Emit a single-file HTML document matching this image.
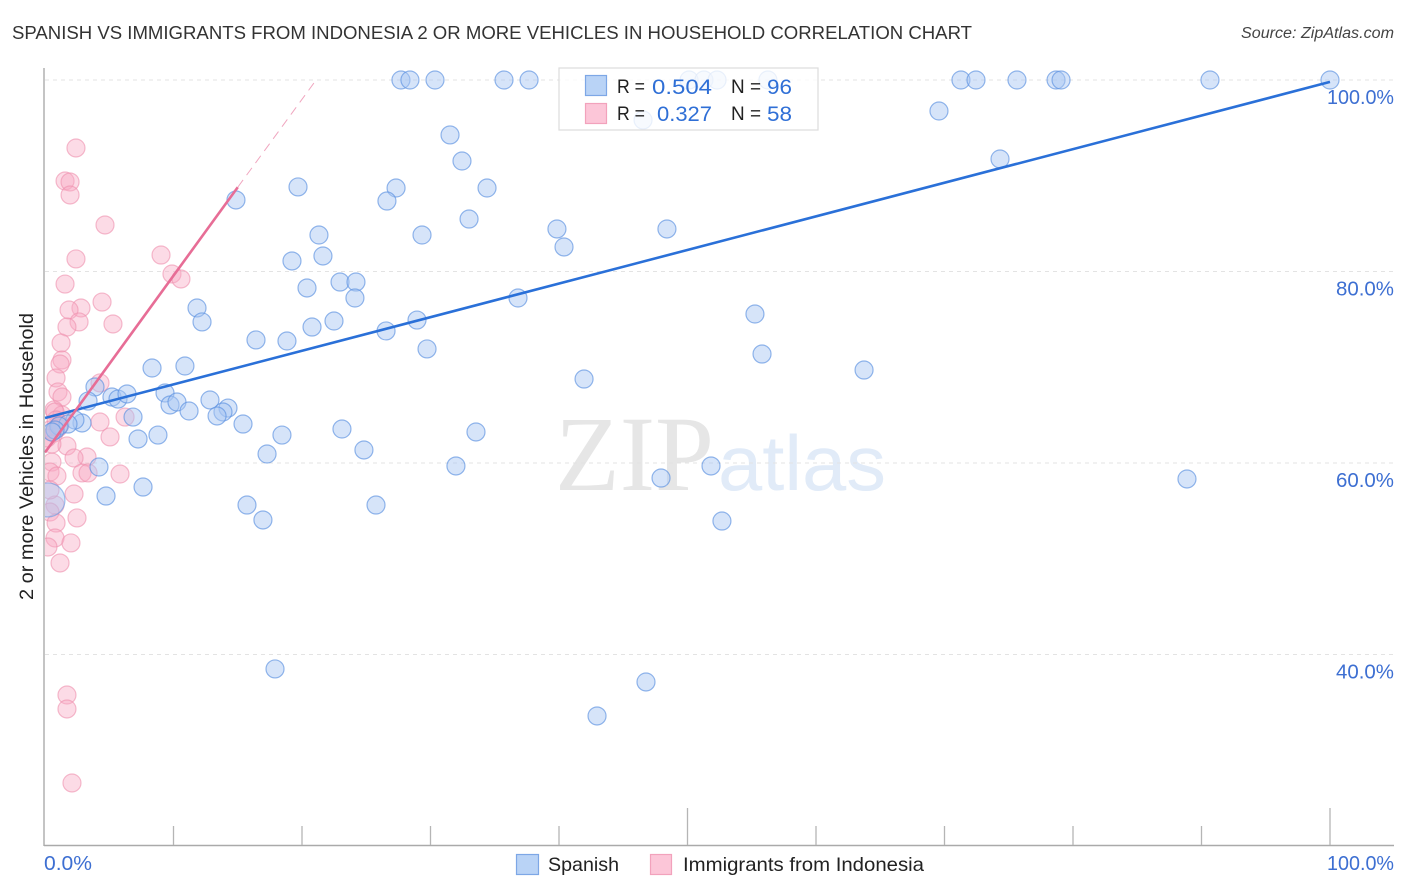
<!DOCTYPE html>
<html lang="en">
<head>
<meta charset="utf-8">
<title>Spanish vs Immigrants from Indonesia correlation chart</title>
<style>
html,body{margin:0;padding:0;background:#fff;}
body{width:1406px;height:892px;overflow:hidden;}
svg{display:block;font-family:"Liberation Sans",sans-serif;}
</style>
</head>
<body>
<svg id="chart" width="1406" height="892" viewBox="0 0 1406 892" xmlns="http://www.w3.org/2000/svg">
  <defs><clipPath id="plot-clip"><rect x="45" y="60" width="1349" height="785"/></clipPath></defs>
  <text x="12" y="39" font-size="18.4" fill="#333" textLength="960" lengthAdjust="spacingAndGlyphs">SPANISH VS IMMIGRANTS FROM INDONESIA 2 OR MORE VEHICLES IN HOUSEHOLD CORRELATION CHART</text>
  <text x="1241" y="38" font-size="15.5" font-style="italic" fill="#444" textLength="153" lengthAdjust="spacingAndGlyphs">Source: ZipAtlas.com</text>
  <g>
    <text x="555" y="490" font-family="'Liberation Serif',serif" font-size="107" fill="#e6e6e6" textLength="159" lengthAdjust="spacingAndGlyphs">ZIP</text>
    <text x="718" y="490" font-size="78" fill="#e1ebf8" textLength="168" lengthAdjust="spacingAndGlyphs">atlas</text>
  </g>
  <g id="grid"></g>
  <g id="pink-points" clip-path="url(#plot-clip)"></g>
  <g id="blue-points" clip-path="url(#plot-clip)"></g>
  <g id="trends"></g>
  <g id="axes"></g>
  <g id="y-labels" font-size="20" fill="#3d6fd2"></g>
  <text transform="translate(33,456.5) rotate(-90)" font-size="19" fill="#222" text-anchor="middle" textLength="287" lengthAdjust="spacingAndGlyphs">2 or more Vehicles in Household</text>
  <text x="44" y="870" font-size="20" fill="#3d6fd2" textLength="48" lengthAdjust="spacingAndGlyphs">0.0%</text>
  <text x="1327" y="870" font-size="20" fill="#3d6fd2" textLength="67" lengthAdjust="spacingAndGlyphs">100.0%</text>
  <g>
    <rect x="559" y="68" width="259" height="62" fill="#fff" fill-opacity="0.8" stroke="#dcdcdc" stroke-width="1.2"/>
    <rect x="585.5" y="75.5" width="21" height="20" fill="#b9d3f6" stroke="#7da7e6" stroke-width="1.2"/>
    <rect x="585.5" y="103.5" width="21" height="20" fill="#fcc6d8" stroke="#f2a2bc" stroke-width="1.2"/>
    <g font-size="19.5" fill="#222">
      <text x="617" y="93" textLength="28" lengthAdjust="spacingAndGlyphs">R =</text>
      <text x="731" y="93" textLength="30" lengthAdjust="spacingAndGlyphs">N =</text>
      <text x="617" y="120" textLength="28" lengthAdjust="spacingAndGlyphs">R =</text>
      <text x="731" y="120" textLength="30" lengthAdjust="spacingAndGlyphs">N =</text>
    </g>
    <g font-size="21" fill="#2f6fd6">
      <text x="652" y="94" textLength="60" lengthAdjust="spacingAndGlyphs">0.504</text>
      <text x="767" y="94" textLength="25" lengthAdjust="spacingAndGlyphs">96</text>
      <text x="657" y="121" textLength="55" lengthAdjust="spacingAndGlyphs">0.327</text>
      <text x="767" y="121" textLength="25" lengthAdjust="spacingAndGlyphs">58</text>
    </g>
  </g>
  <g>
    <rect x="516.5" y="854.5" width="22" height="20" fill="#b9d3f6" stroke="#7da7e6" stroke-width="1.2"/>
    <text x="548" y="871" font-size="19.5" fill="#222" textLength="71" lengthAdjust="spacingAndGlyphs">Spanish</text>
    <rect x="650.5" y="854.5" width="21" height="20" fill="#fcc6d8" stroke="#f2a2bc" stroke-width="1.2"/>
    <text x="683" y="871" font-size="19.5" fill="#222" textLength="241" lengthAdjust="spacingAndGlyphs">Immigrants from Indonesia</text>
  </g>
</svg>
<script>
const yTicks = [100, 80, 60, 40];
const yTickLabels = ["100.0%", "80.0%", "60.0%", "40.0%"];
const xTicks = [10, 20, 30, 40, 50, 60, 70, 80, 90, 100];
const spanishX = [27.70,28.40,30.35,35.72,37.67,50.12,51.28,52.30,56.26,71.28,72.45,75.64,78.68,79.07,90.66,100,46.54,69.57,31.52,32.45,74.32,19.69,27.32,34.40,14.86,26.61,33.00,21.32,29.34,39.84,48.40,40.39,19.22,21.63,22.96,24.20,20.39,24.12,36.81,11.83,55.25,12.22,22.49,28.95,20.78,26.54,16.42,18.83,29.73,55.80,8.33,10.89,63.74,41.95,3.89,9.34,3.35,5.21,5.68,6.38,12.84,9.73,10.27,11.21,14.24,13.85,13.39,6.85,2.88,2.33,1.79,1.09,15.41,23.11,18.44,33.54,7.24,8.79,17.28,24.82,31.98,51.83,4.20,47.94,88.87,7.63,4.75,15.72,25.76,16.96,52.68,17.90,46.77,42.96,0.78,0.54];
const spanishY = [100,100,100,100,100,100,100,100,100,100,100,100,100,100,100,100,95.82,96.76,94.26,91.54,91.75,88.83,88.72,88.72,87.47,87.36,85.48,83.81,83.81,84.44,84.44,82.56,81.10,81.62,78.90,78.90,78.28,77.23,77.23,76.19,75.56,74.73,74.83,74.93,74.20,73.79,72.85,72.74,71.91,71.38,69.92,70.13,69.71,68.77,67.94,67.31,66.47,66.89,66.68,67.21,66.58,66.06,66.37,65.43,65.74,65.33,64.91,64.80,64.18,64.49,64.07,63.86,64.07,63.55,62.92,63.24,62.51,62.92,60.94,61.36,59.69,59.69,59.58,58.43,58.33,57.49,56.55,55.61,55.61,54.05,53.94,38.49,37.13,33.58,63.45,63.24];
const spanishBigX = [0.23];
const spanishBigY = [56.14];
const indonesiaX = [2.41,1.56,1.95,1.95,4.67,2.41,9.03,9.88,10.58,1.56,4.44,2.80,1.87,2.65,5.29,1.71,1.25,1.32,1.17,4.28,0.86,1.01,1.32,0.70,1.32,0.78,4.28,6.23,5.06,1.71,3.27,2.26,0.54,0.39,0.93,2.88,3.35,5.84,2.26,0.78,0.39,0.39,2.49,0.86,0.78,2.02,0.23,1.17,1.71,1.71,2.10,0.86,0.39,0.70,1.01,0.54,0.16,1.17];
const indonesiaY = [92.90,89.45,89.35,87.99,84.86,81.31,81.72,79.74,79.22,78.69,76.81,76.19,75.98,74.73,74.52,74.20,72.53,70.76,70.34,68.36,68.88,67.42,66.89,65.54,65.01,65.33,64.28,64.80,62.72,61.78,60.63,60.52,60.10,59.06,58.64,58.96,58.96,58.85,56.76,55.61,57.18,54.88,54.26,53.73,52.17,51.65,51.23,49.56,35.77,34.31,26.58,64.49,63.45,63.13,63.66,61.98,62.61,63.97];
const spanishTrendX = [0, 100];
const spanishTrendY = [64.7, 99.8];
const indonesiaTrendX = [0, 15];
const indonesiaTrendY = [61.1, 88.8];
const indonesiaDashX = [15, 21.1];
const indonesiaDashY = [88.8, 100];

const NS = "http://www.w3.org/2000/svg";
function sx(v){ return 45 + v * 12.85; }
function sy(v){ return 80 + (100 - v) * 9.575; }
function mk(tag, parent, attrs){
  const el = document.createElementNS(NS, tag);
  for (const k in attrs) el.setAttribute(k, attrs[k]);
  document.getElementById(parent).appendChild(el);
  return el;
}
yTicks.forEach(function(t, i){
  const g = mk("line", "grid", {x1:45, x2:1394, y1:sy(t), y2:sy(t), stroke:"#e3e3e3", "stroke-width":1, "stroke-dasharray":"4 4"});
  
  
  const l = mk("text", "y-labels", {x:1394, y:sy(t) + 24, "text-anchor":"end", textLength: yTickLabels[i].length * 9 + 13, lengthAdjust:"spacingAndGlyphs"});
  l.textContent = yTickLabels[i];
  
  
});
function dot(parent, x, y, r, fill, stroke, op, sop){
  return mk("circle", parent, {cx:sx(x), cy:sy(y), r:r, fill:fill, "fill-opacity":op, stroke:stroke, "stroke-opacity":sop, "stroke-width":1.2});
}
indonesiaX.forEach(function(x, i){
  const c = dot("pink-points", x, indonesiaY[i], 9, "#f9a9c4", "#ee8fae", 0.42, 0.6);
  
  
});
spanishBigX.forEach(function(x, i){
  const c = dot("blue-points", x, spanishBigY[i], 17, "#a8c6f2", "#6f9fe4", 0.45, 0.65);
  
  
});
spanishX.forEach(function(x, i){
  const c = dot("blue-points", x, spanishY[i], 9, "#a8c6f2", "#5b90e0", 0.47, 0.65);
  
  
});
const t1 = mk("line", "trends", {x1:sx(spanishTrendX[0]), y1:sy(spanishTrendY[0]), x2:sx(spanishTrendX[1]), y2:sy(spanishTrendY[1]), stroke:"#2a70d8", "stroke-width":2.6});


const t2 = mk("line", "trends", {x1:sx(indonesiaTrendX[0]), y1:sy(indonesiaTrendY[0]), x2:sx(indonesiaTrendX[1]), y2:sy(indonesiaTrendY[1]), stroke:"#e76d96", "stroke-width":2.6});


const t3 = mk("line", "trends", {x1:sx(indonesiaDashX[0]), y1:sy(indonesiaDashY[0]), x2:sx(indonesiaDashX[1]), y2:sy(indonesiaDashY[1]), stroke:"#f0a6bf", "stroke-width":1, "stroke-dasharray":"9 6"});


const ay = mk("line", "axes", {x1:44, x2:44, y1:68, y2:846, stroke:"#aaa", "stroke-width":1.4});


const ax = mk("line", "axes", {x1:44, x2:1394, y1:845.5, y2:845.5, stroke:"#aaa", "stroke-width":1.4});


xTicks.forEach(function(t){
  const tall = t === 50 || t === 100;
  const k = mk("line", "axes", {x1:sx(t), x2:sx(t), y1:tall ? 808 : 826, y2:845, stroke:"#b5b5b5", "stroke-width":1.3});
  
  
});
</script>
</body>
</html>
